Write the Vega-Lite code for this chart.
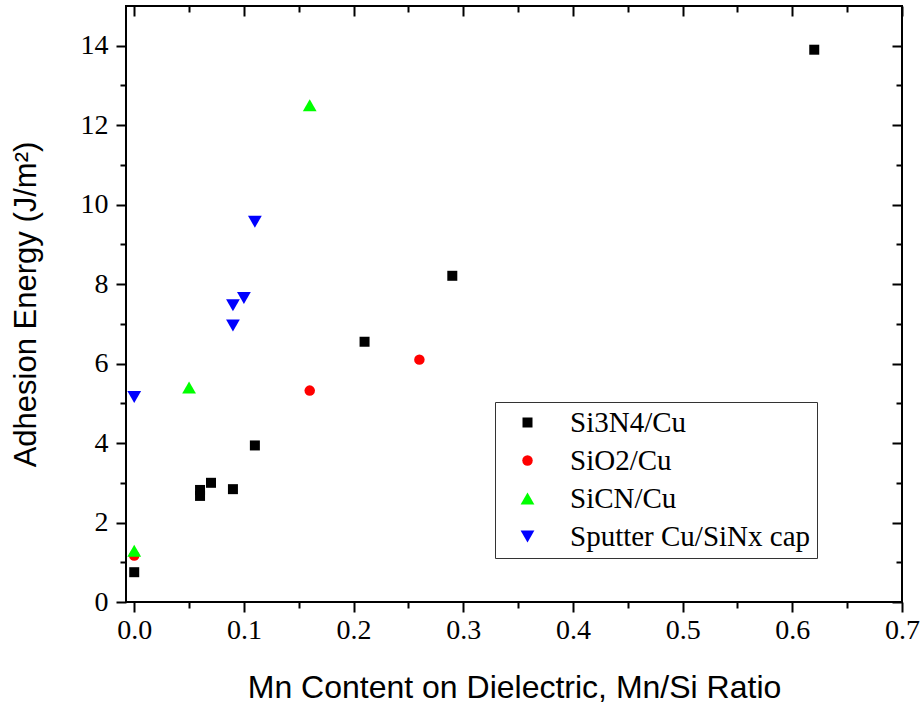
{
  "$schema": "https://vega.github.io/schema/vega-lite/v6.json",
  "width": 776,
  "height": 596,
  "autosize": {"type": "none"},
  "padding": {"left": 126, "top": 6, "right": 20, "bottom": 106},
  "background": "white",
  "config": {
    "view": {"stroke": "black", "strokeWidth": 2},
    "axis": {"domain": false, "grid": false, "tickColor": "black", "tickWidth": 2, "labelColor": "black", "titleColor": "black"}
  },
  "data": {
    "values": [
      {"series": "Si3N4/Cu", "mn": 0.0, "energy": 0.75},
      {"series": "Si3N4/Cu", "mn": 0.06, "energy": 2.67},
      {"series": "Si3N4/Cu", "mn": 0.06, "energy": 2.82},
      {"series": "Si3N4/Cu", "mn": 0.07, "energy": 3.0},
      {"series": "Si3N4/Cu", "mn": 0.09, "energy": 2.84},
      {"series": "Si3N4/Cu", "mn": 0.11, "energy": 3.94},
      {"series": "Si3N4/Cu", "mn": 0.21, "energy": 6.55},
      {"series": "Si3N4/Cu", "mn": 0.29, "energy": 8.21},
      {"series": "Si3N4/Cu", "mn": 0.62, "energy": 13.9},
      {"series": "SiO2/Cu", "mn": 0.0, "energy": 1.17},
      {"series": "SiO2/Cu", "mn": 0.16, "energy": 5.32},
      {"series": "SiO2/Cu", "mn": 0.26, "energy": 6.1},
      {"series": "SiCN/Cu", "mn": 0.0, "energy": 1.29},
      {"series": "SiCN/Cu", "mn": 0.05, "energy": 5.4},
      {"series": "SiCN/Cu", "mn": 0.16, "energy": 12.5},
      {"series": "Sputter Cu/SiNx cap", "mn": 0.0, "energy": 5.16},
      {"series": "Sputter Cu/SiNx cap", "mn": 0.09, "energy": 6.96},
      {"series": "Sputter Cu/SiNx cap", "mn": 0.09, "energy": 7.47},
      {"series": "Sputter Cu/SiNx cap", "mn": 0.10, "energy": 7.65},
      {"series": "Sputter Cu/SiNx cap", "mn": 0.11, "energy": 9.57}
    ]
  },
  "resolve": {"axis": {"x": "independent", "y": "independent"}},
  "layer": [
    {
      "mark": {"type": "point", "filled": true, "opacity": 1, "strokeWidth": 0},
      "encoding": {
        "x": {
          "field": "mn", "type": "quantitative",
          "scale": {"domain": [-0.0075, 0.7], "nice": false, "zero": false},
          "axis": {
            "orient": "bottom",
            "title": "Mn Content on Dielectric, Mn/Si Ratio",
            "titleFont": "Liberation Sans", "titleFontSize": 32, "titleFontWeight": "normal", "titlePadding": 28,
            "values": [0, 0.05, 0.1, 0.15, 0.2, 0.25, 0.3, 0.35, 0.4, 0.45, 0.5, 0.55, 0.6, 0.65, 0.7],
            "labelExpr": "abs(datum.value*10 - round(datum.value*10)) < 0.001 ? format(datum.value, '.1f') : ''",
            "labelFont": "Liberation Serif", "labelFontSize": 28, "labelPadding": 4, "labelFlush": false, "labelOverlap": false,
            "tickSize": {"condition": {"test": "abs(datum.value*10 - round(datum.value*10)) < 0.001", "value": 10}, "value": 6}
          }
        },
        "y": {
          "field": "energy", "type": "quantitative",
          "scale": {"domain": [0, 15], "nice": false},
          "axis": {
            "orient": "left",
            "title": "Adhesion Energy (J/m²)",
            "titleFont": "Liberation Sans", "titleFontSize": 31, "titleFontWeight": "normal", "titlePadding": 38,
            "values": [0, 1, 2, 3, 4, 5, 6, 7, 8, 9, 10, 11, 12, 13, 14],
            "labelExpr": "datum.value % 2 === 0 ? datum.value : ''",
            "labelFont": "Liberation Serif", "labelFontSize": 28, "labelPadding": 8, "labelFlush": false, "labelOverlap": false,
            "tickSize": {"condition": {"test": "datum.value % 2 === 0", "value": 10}, "value": 6}
          }
        },
        "color": {
          "field": "series", "type": "nominal",
          "scale": {"domain": ["Si3N4/Cu", "SiO2/Cu", "SiCN/Cu", "Sputter Cu/SiNx cap"], "range": ["#000000", "#ff0000", "#00ff00", "#0000ff"]},
          "legend": {
            "orient": "none", "legendX": 369, "legendY": 396, "title": null,
            "labelFont": "Liberation Serif", "labelFontSize": 29, "labelColor": "black", "labelLimit": 500,
            "strokeColor": "#333333", "fillColor": "white", "padding": 6, "rowPadding": 8,
            "symbolOffset": 12, "labelOffset": 28
          }
        },
        "shape": {
          "field": "series", "type": "nominal",
          "scale": {"domain": ["Si3N4/Cu", "SiO2/Cu", "SiCN/Cu", "Sputter Cu/SiNx cap"], "range": ["square", "circle", "triangle-up", "triangle-down"]}
        },
        "size": {
          "field": "series", "type": "nominal",
          "scale": {"type": "ordinal", "domain": ["Si3N4/Cu", "SiO2/Cu", "SiCN/Cu", "Sputter Cu/SiNx cap"], "range": [100, 110, 190, 190]}
        }
      }
    },
    {
      "mark": {"type": "point", "opacity": 0},
      "encoding": {
        "x": {
          "field": "mn", "type": "quantitative",
          "axis": {
            "orient": "top", "title": null, "labels": false,
            "values": [0, 0.05, 0.1, 0.15, 0.2, 0.25, 0.3, 0.35, 0.4, 0.45, 0.5, 0.55, 0.6, 0.65, 0.7],
            "tickSize": {"condition": {"test": "abs(datum.value*10 - round(datum.value*10)) < 0.001", "value": -10}, "value": -6}
          }
        },
        "y": {
          "field": "energy", "type": "quantitative",
          "axis": {
            "orient": "right", "title": null, "labels": false,
            "values": [0, 1, 2, 3, 4, 5, 6, 7, 8, 9, 10, 11, 12, 13, 14],
            "tickSize": {"condition": {"test": "datum.value % 2 === 0", "value": -10}, "value": -6}
          }
        }
      }
    }
  ]
}
